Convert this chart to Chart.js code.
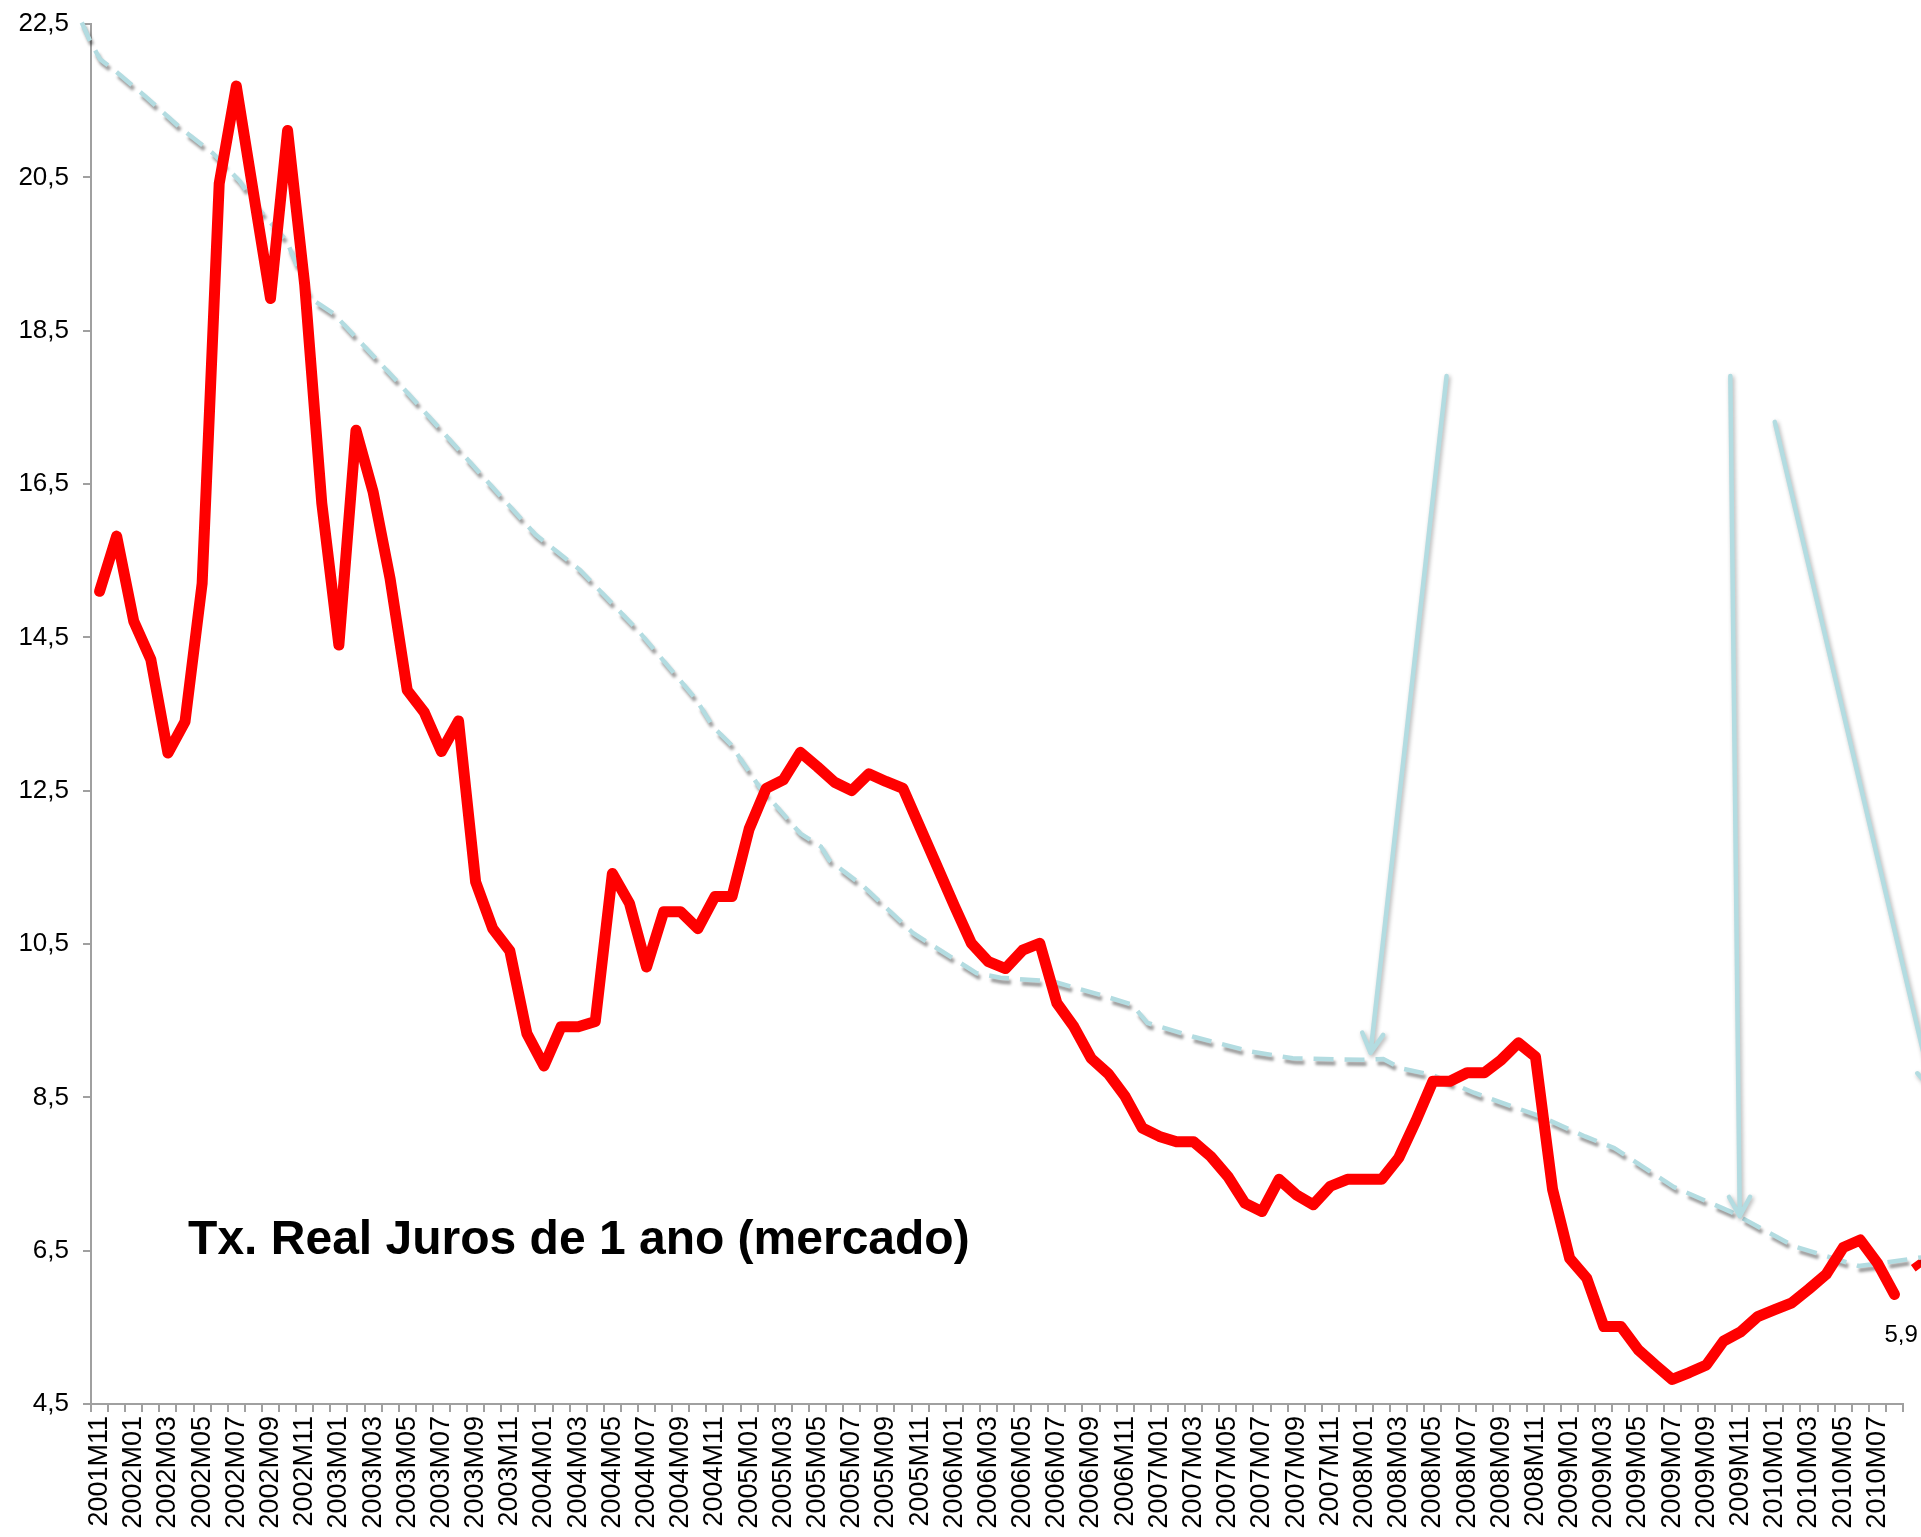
<!DOCTYPE html>
<html>
<head>
<meta charset="utf-8">
<title>Tx. Real Juros de 1 ano (mercado)</title>
<script src="https://cdn.jsdelivr.net/npm/chart.js@4.4.1/dist/chart.umd.min.js"></script>
<style>
    html, body { margin: 0; padding: 0; background: #fff; }
    #wrap { width: 1921px; height: 1537px; position: relative; }
</style>
</head>
<body>
<div id="wrap"><canvas id="juros"></canvas></div>
<script>
// MESES (2001M11 .. 2010M08)
const meses = [
    "2001M11", "2001M12",
    "2002M01", "2002M02", "2002M03", "2002M04", "2002M05", "2002M06", "2002M07", "2002M08", "2002M09", "2002M10", "2002M11", "2002M12",
    "2003M01", "2003M02", "2003M03", "2003M04", "2003M05", "2003M06", "2003M07", "2003M08", "2003M09", "2003M10", "2003M11", "2003M12",
    "2004M01", "2004M02", "2004M03", "2004M04", "2004M05", "2004M06", "2004M07", "2004M08", "2004M09", "2004M10", "2004M11", "2004M12",
    "2005M01", "2005M02", "2005M03", "2005M04", "2005M05", "2005M06", "2005M07", "2005M08", "2005M09", "2005M10", "2005M11", "2005M12",
    "2006M01", "2006M02", "2006M03", "2006M04", "2006M05", "2006M06", "2006M07", "2006M08", "2006M09", "2006M10", "2006M11", "2006M12",
    "2007M01", "2007M02", "2007M03", "2007M04", "2007M05", "2007M06", "2007M07", "2007M08", "2007M09", "2007M10", "2007M11", "2007M12",
    "2008M01", "2008M02", "2008M03", "2008M04", "2008M05", "2008M06", "2008M07", "2008M08", "2008M09", "2008M10", "2008M11", "2008M12",
    "2009M01", "2009M02", "2009M03", "2009M04", "2009M05", "2009M06", "2009M07", "2009M08", "2009M09", "2009M10", "2009M11", "2009M12",
    "2010M01", "2010M02", "2010M03", "2010M04", "2010M05", "2010M06", "2010M07", "2010M08"
];

// TAXA REAL (mercado), um valor por mes
const taxaReal = [
    15.1, 15.82,
    14.71, 14.21, 12.99, 13.4, 15.2, 20.42, 21.69, 20.3, 18.92, 21.11, 19.1, 16.25,
    14.4, 17.2, 16.4, 15.26, 13.81, 13.52, 13.01, 13.41, 11.31, 10.7, 10.41, 9.33,
    8.91, 9.42, 9.42, 9.49, 11.42, 11.03, 10.2, 10.92, 10.92, 10.7, 11.12, 11.12,
    12.0, 12.53, 12.64, 13.0, 12.81, 12.61, 12.5, 12.72, 12.62, 12.53, 12.02, 11.51,
    11.0, 10.51, 10.27, 10.18, 10.42, 10.51, 9.73, 9.42, 9.01, 8.81, 8.51, 8.1,
    7.99, 7.92, 7.92, 7.73, 7.47, 7.12, 7.01, 7.43, 7.23, 7.1, 7.34, 7.43,
    7.43, 7.43, 7.71, 8.19, 8.71, 8.71, 8.82, 8.82, 8.99, 9.21, 9.03, 7.3,
    6.4, 6.14, 5.51, 5.51, 5.21, 5.01, 4.82, 4.91, 5.01, 5.32, 5.44, 5.64,
    5.73, 5.82, 6.0, 6.19, 6.54, 6.64, 6.34, 5.93
];

// LINHA DE TENDENCIA tracejada (posicao em meses a partir de 2001M11, valor)
const tendX = [-1.04, -0.56, 0.03, 0.8, 2.76, 4.7, 6.65, 8.2, 9.4, 10.95, 12.3, 13.7, 17.2, 20.8, 22.9, 25.5,
    28.1, 31.5, 34.9, 35.9, 36.9, 38.6, 41.0, 42.2, 42.7, 44.7, 47.6, 51.3, 52.7, 55.8, 58.5, 60.4, 61.3,
    64.0, 67.3, 69.8, 73.8, 75.1, 76.1, 78.0, 80.4, 84.3, 86.9, 88.6, 92.1, 95.4, 99.1, 102.9, 104.3, 106.8];
const tendY = [22.52, 22.28, 22.04, 21.91, 21.54, 21.15, 20.81, 20.45, 20.06, 19.67, 18.93, 18.72, 17.89, 17.0, 16.48, 15.84,
    15.38, 14.59, 13.69, 13.33, 13.11, 12.55, 11.94, 11.77, 11.59, 11.25, 10.64, 10.12, 10.06, 10.01, 9.84, 9.71, 9.47,
    9.29, 9.1, 9.01, 8.99, 9.0, 8.88, 8.79, 8.56, 8.25, 7.99, 7.84, 7.33, 7.01, 6.56, 6.3, 6.34, 6.42];

// pedaco de linha vermelha tracejada na borda direita
const projX = [106.1, 107.2];
const projY = [6.27, 6.45];

// SETAS (inicio e ponta, em meses / valor)
const setaDe = [[78.8, 17.91], [95.4, 17.91], [98.0, 17.31]];
const setaPara = [[74.35, 9.08], [95.95, 6.95], [107.2, 8.6]];

// EIXO Y
const yTicks = [4.5, 6.5, 8.5, 10.5, 12.5, 14.5, 16.5, 18.5, 20.5, 22.5];

const titulo = "Tx. Real Juros de 1 ano (mercado)";
const tituloPos = [5.18, 6.46];

const corTendencia = "#b3dce1";
const fonte = "'Liberation Sans', Arial, sans-serif";
const virgula = v => v.toFixed(1).replace('.', ',');

const tendencia = tendX.map((x, i) => ({ x: x, y: tendY[i] }));
const projecao = projX.map((x, i) => ({ x: x, y: projY[i] }));


// sombra para a linha tracejada
const sombra = {
    id: 'sombra',
    beforeDatasetDraw(chart, args) {
        if (!chart.data.datasets[args.index].sombra) return;
        const ctx = chart.ctx;
        ctx.save();
        ctx.shadowColor = 'rgba(0,0,0,0.4)';
        ctx.shadowBlur = 3;
        ctx.shadowOffsetX = 2;
        ctx.shadowOffsetY = 4;
    },
    afterDatasetDraw(chart, args) {
        if (chart.data.datasets[args.index].sombra) chart.ctx.restore();
    }
};

// setas, titulo e rotulo do ultimo valor
const extras = {
    id: 'extras',
    afterDatasetsDraw(chart) {
        const ctx = chart.ctx;
        const xs = chart.scales.x2;
        const ys = chart.scales.y;

        ctx.save();
        ctx.strokeStyle = corTendencia;
        ctx.lineWidth = 4.5;
        ctx.lineCap = 'round';
        ctx.lineJoin = 'round';
        ctx.shadowColor = 'rgba(0,0,0,0.3)';
        ctx.shadowBlur = 4;
        ctx.shadowOffsetX = 1.5;
        ctx.shadowOffsetY = 2;
        setaDe.forEach((p, i) => {
            const x0 = xs.getPixelForValue(p[0]), y0 = ys.getPixelForValue(p[1]);
            const x1 = xs.getPixelForValue(setaPara[i][0]), y1 = ys.getPixelForValue(setaPara[i][1]);
            const ang = Math.atan2(y1 - y0, x1 - x0);
            ctx.beginPath();
            ctx.moveTo(x0, y0);
            ctx.lineTo(x1, y1);
            ctx.moveTo(x1 - 22 * Math.cos(ang - 0.5), y1 - 22 * Math.sin(ang - 0.5));
            ctx.lineTo(x1, y1);
            ctx.lineTo(x1 - 22 * Math.cos(ang + 0.5), y1 - 22 * Math.sin(ang + 0.5));
            ctx.stroke();
        });
        ctx.restore();

        ctx.save();
        ctx.fillStyle = '#000';
        ctx.font = "bold 48px " + fonte;
        ctx.textAlign = 'left';
        ctx.textBaseline = 'alphabetic';
        ctx.fillText(titulo, xs.getPixelForValue(tituloPos[0]), ys.getPixelForValue(tituloPos[1]));

        const meta = chart.getDatasetMeta(0);
        const last = meta.data[meta.data.length - 1];
        ctx.font = "24px " + fonte;
        ctx.textBaseline = 'middle';
        ctx.fillText(virgula(taxaReal[taxaReal.length - 1]), last.x - 10, last.y + 41);
        ctx.restore();
    }
};


// GRAFICO
new Chart(document.getElementById('juros'), {
    type: 'line',
    data: {
        labels: meses,
        datasets: [
            {
                label: 'Tx. Real Juros de 1 ano',
                data: taxaReal,
                xAxisID: 'x',
                yAxisID: 'y',
                borderColor: '#ff0000',
                borderWidth: 11,
                borderJoinStyle: 'round',
                borderCapStyle: 'round',
                pointRadius: 0,
                tension: 0,
                fill: false
            },
            {
                label: 'Tendencia',
                data: tendencia,
                xAxisID: 'x2',
                yAxisID: 'y',
                borderColor: corTendencia,
                borderWidth: 4.5,
                borderDash: [20, 11],
                pointRadius: 0,
                tension: 0,
                clip: false,
                sombra: true,
                fill: false
            },
            {
                label: 'Projecao',
                data: projecao,
                xAxisID: 'x2',
                yAxisID: 'y',
                borderColor: '#ff0000',
                borderWidth: 8,
                borderDash: [12, 8],
                pointRadius: 0,
                tension: 0,
                clip: false,
                fill: false
            }
        ]
    },
    options: {
        responsive: true,
        maintainAspectRatio: false,
        animation: false,
        layout: { padding: { top: 24, right: 18, left: 0, bottom: 0 } },
        plugins: {
            legend: { display: false },
            tooltip: { enabled: false }
        },
        scales: {
            x: {
                type: 'category',
                offset: true,
                grid: { display: true, drawOnChartArea: false, offset: true, tickLength: 8, color: '#a0a0a0', lineWidth: 2 },
                border: { display: true, color: '#a0a0a0', width: 2 },
                ticks: {
                    autoSkip: false,
                    minRotation: 90,
                    maxRotation: 90,
                    padding: 4,
                    color: '#000',
                    font: { family: fonte, size: 27 },
                    callback: (v, i) => i % 2 === 0 ? meses[i] : ''
                },
                afterFit: s => { s.height = 133; s.paddingLeft = 0; s.paddingRight = 0; }
            },
            x2: {
                type: 'linear',
                display: false,
                bounds: 'data',
                afterDataLimits: s => { s.min = -0.5; s.max = meses.length - 0.5; }
            },
            y: {
                min: 4.5,
                max: 22.5,
                afterBuildTicks: s => { s.ticks = yTicks.map(v => ({ value: v })); },
                grid: { display: true, drawOnChartArea: false, tickLength: 8, color: '#a0a0a0', lineWidth: 2 },
                border: { display: true, color: '#a0a0a0', width: 2 },
                ticks: {
                    padding: 14,
                    color: '#000',
                    font: { family: fonte, size: 26 },
                    callback: v => virgula(v)
                },
                afterFit: s => { s.width = 91; s.paddingTop = 0; s.paddingBottom = 0; }
            }
        }
    },
    plugins: [sombra, extras]
});
</script>
</body>
</html>
